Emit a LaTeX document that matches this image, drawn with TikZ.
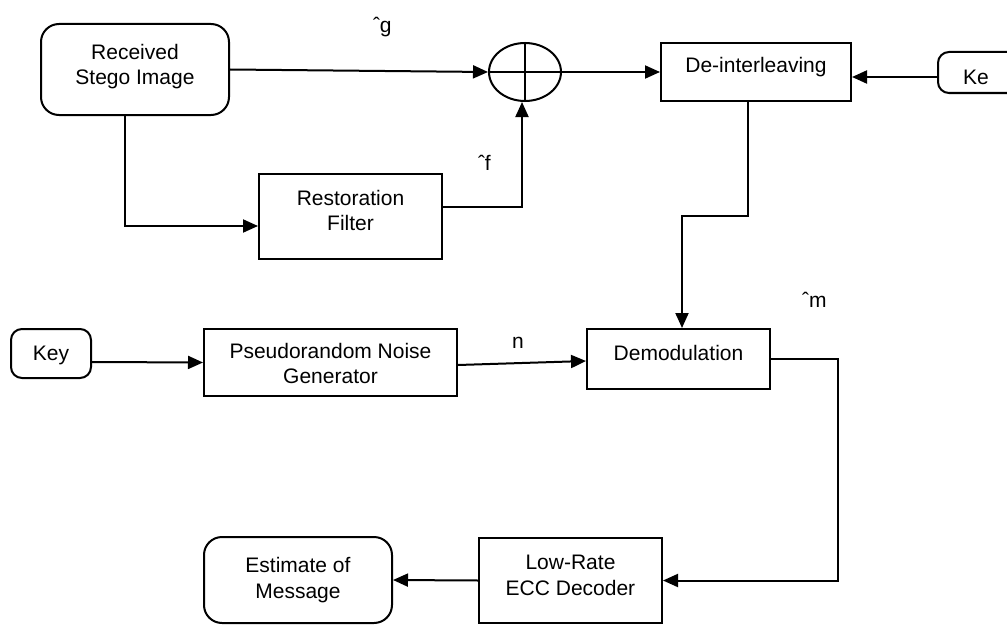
\documentclass[tikz,border=0pt]{standalone}
\usepackage{fontspec}
\setmainfont{Liberation Sans}
\usetikzlibrary{arrows.meta,shapes.geometric,calc}

\begin{document}
\begin{tikzpicture}[x=1pt,y=-1pt,
  line width=2pt,
  every node/.style={font=\fontsize{21}{25.5}\selectfont},
  block/.style={draw, rectangle, inner sep=0pt},
  term/.style={draw, rectangle, rounded corners=18pt, inner sep=0pt},
  smallterm/.style={draw, rectangle, rounded corners=11pt, inner sep=0pt},
  txt/.style={align=center, inner sep=0pt},
  arr/.style={-{Triangle[length=15pt,width=13pt]}},
  sig/.style={anchor=base west, inner sep=0pt}]

\useasboundingbox (0,0) rectangle (1007,626);
\clip (0,0) rectangle (1007,626);

% block outlines
\node[term, minimum width=188pt, minimum height=91pt] (recv) at (135,69.5) {};
\node[draw, ellipse, minimum width=72pt, minimum height=58pt, inner sep=0pt] (sum) at (525,72) {};
\draw (sum.north) -- (sum.south) (sum.west) -- (sum.east);
\node[block, minimum width=190pt, minimum height=58pt] (deint) at (756,72) {};
\node[smallterm, minimum width=110pt, minimum height=41pt, anchor=west] (ke) at (937,72.5) {};
\node[block, minimum width=183pt, minimum height=85pt] (rest) at (350.5,216.5) {};
\node[smallterm, minimum width=80pt, minimum height=49pt] (key) at (51,353.5) {};
\node[block, minimum width=253pt, minimum height=67pt] (pn) at (330.5,362.5) {};
\node[block, minimum width=183pt, minimum height=60pt] (demod) at (678.5,359) {};
\node[block, minimum width=183pt, minimum height=85pt] (lr) at (570.5,580.5) {};
\node[term, minimum width=188pt, minimum height=86pt] (est) at (298,580) {};

% block texts
\node[txt] (trecv)  at ([yshift=3pt]recv.center)   {Received\\Stego Image};
\node[txt] (tdeint) at ([yshift=5pt]deint.center)  {De-interleaving};
\node[txt] (tke)    at (976,77)                    {Ke};
\node[txt] (trest)  at ([yshift=6pt]rest.center)   {Restoration\\Filter};
\node[txt] (tkey)   at ([yshift=-1.5pt]key.center) {Key};
\node[txt] (tpn)    at ([yshift=-1pt]pn.center)    {Pseudorandom Noise\\Generator};
\node[txt] (tdemod) at ([yshift=6pt]demod.center)  {Demodulation};
\node[txt] (tlr)    at ([yshift=5pt]lr.center)     {Low-Rate\\ECC Decoder};
\node[txt] (test)   at (est.center)                {Estimate of\\Message};

% signal labels
\node[sig] (lg) at (372,33) {ˆg};
\node[sig] (lf) at (477,170) {ˆf};
\node[sig] (lm) at (801,307) {ˆm};
\node[sig] (ln) at (511,348) {n};

% connectors
\draw[arr] (recv.east) -- (sum.west);
\draw[arr] ([xshift=-10pt]recv.south) |- ([yshift=-9.5pt]rest.west);
\draw[arr] ([yshift=9.5pt]rest.east) -| ([xshift=-3pt]sum.south);
\draw[arr] (sum.east) -- (deint.west);
\draw[arr] ([yshift=-4.5pt]ke.west) -- ([yshift=-5pt]deint.east);
\draw[arr] ([xshift=-8pt]deint.south) -- ++(0,114) -| ([xshift=3.5pt]demod.north);
\draw[arr] ([yshift=-8.5pt]key.east) -- (pn.west);
\draw[arr] ([yshift=-2.5pt]pn.east) -- ([yshift=-2pt]demod.west);
\draw[arr] (demod.east) -- ++(67,0) |- (lr.east);
\draw[arr] (lr.west) -- (est.east);

\end{tikzpicture}
\end{document}
